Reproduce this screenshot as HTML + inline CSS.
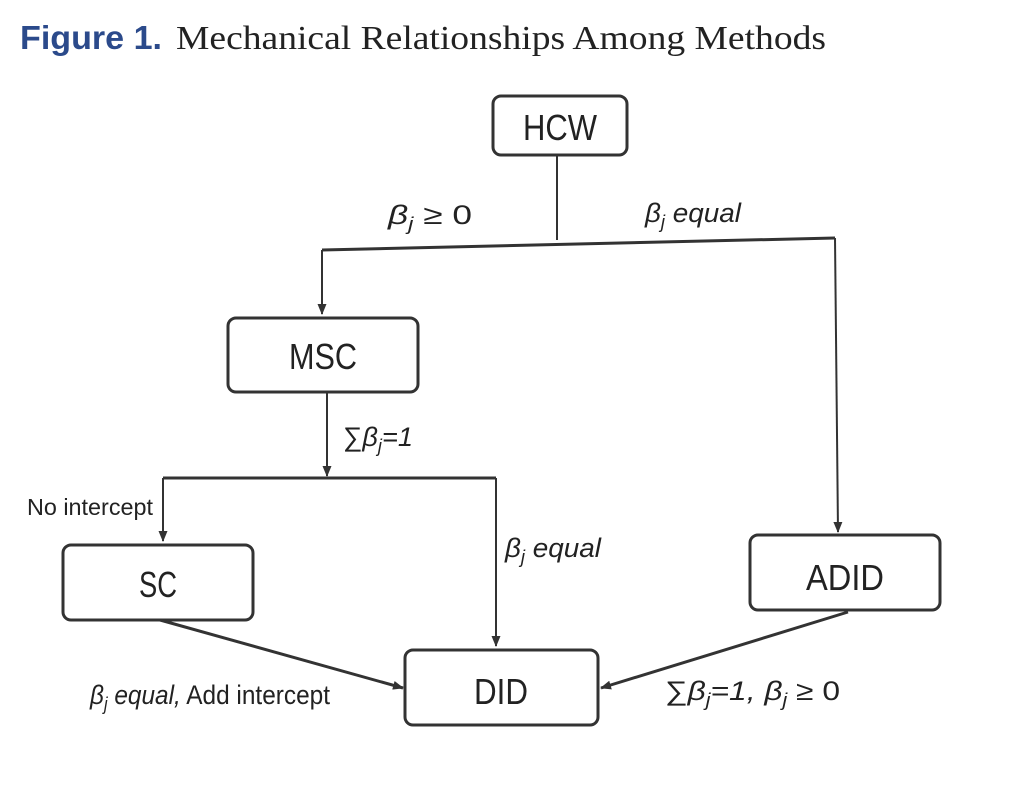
<!DOCTYPE html>
<html><head><meta charset="utf-8"><style>
body{margin:0;background:#fff;width:1010px;height:790px;overflow:hidden}
svg{display:block}
</style></head><body>
<svg width="1010" height="790" viewBox="0 0 1010 790" xmlns="http://www.w3.org/2000/svg">
<defs><marker id="a" markerWidth="12" markerHeight="12" refX="10" refY="6" orient="auto" markerUnits="userSpaceOnUse"><path d="M0,1.5 L11,6 L0,10.5 z" fill="#333"/></marker></defs>
<text x="20" y="49" font-family="Liberation Sans,sans-serif" font-weight="bold" font-size="33" fill="#2b4a8b" textLength="142" lengthAdjust="spacingAndGlyphs">Figure 1.</text>
<text x="176" y="49" font-family="Liberation Serif,serif" font-size="34" fill="#222" textLength="650" lengthAdjust="spacingAndGlyphs">Mechanical Relationships Among Methods</text>
<g fill="#fff" stroke="#333" stroke-width="3">
<rect x="493" y="96" width="134" height="59" rx="8"/>
<rect x="228" y="318" width="190" height="74" rx="8"/>
<rect x="63" y="545" width="190" height="75" rx="8"/>
<rect x="750" y="535" width="190" height="75" rx="8"/>
<rect x="405" y="650" width="193" height="75" rx="8"/>
</g>
<g stroke="#333" stroke-width="2" fill="none">
<path d="M557,155 V240"/>
<path d="M322,250 L835,238" stroke-width="3"/>
<path d="M322,250 V314" marker-end="url(#a)"/>
<path d="M835,238 L838,532" marker-end="url(#a)"/>
<path d="M327,392 V476" marker-end="url(#a)"/>
<path d="M163,478 H496" stroke-width="3"/>
<path d="M163,478 V541" marker-end="url(#a)"/>
<path d="M496,478 V646" marker-end="url(#a)"/>
<path d="M160,620 L403,688" stroke-width="3" marker-end="url(#a)"/>
<path d="M848,612 L601,688" stroke-width="3" marker-end="url(#a)"/>
</g>
<g font-family="Liberation Sans,sans-serif" fill="#222" text-anchor="middle" font-size="36">
<text x="560" y="140" textLength="74" lengthAdjust="spacingAndGlyphs">HCW</text>
<text x="323" y="369" textLength="68" lengthAdjust="spacingAndGlyphs">MSC</text>
<text x="158" y="597" textLength="38" lengthAdjust="spacingAndGlyphs">SC</text>
<text x="845" y="590" textLength="78" lengthAdjust="spacingAndGlyphs">ADID</text>
<text x="501" y="704" textLength="54" lengthAdjust="spacingAndGlyphs">DID</text>
</g>
<g font-family="Liberation Sans,sans-serif" fill="#222" font-size="27">
<text x="388" y="224" font-style="italic" textLength="84" lengthAdjust="spacingAndGlyphs">β<tspan font-size="18" dy="6">j</tspan><tspan dy="-6" font-style="normal"> ≥ 0</tspan></text>
<text x="645" y="222" font-style="italic" textLength="96" lengthAdjust="spacingAndGlyphs">β<tspan font-size="18" dy="6">j</tspan><tspan dy="-6"> equal</tspan></text>
<text x="343" y="446" font-style="italic" textLength="70" lengthAdjust="spacingAndGlyphs"><tspan font-style="normal">∑</tspan>β<tspan font-size="18" dy="6">j</tspan><tspan dy="-6">=1</tspan></text>
<text x="27" y="515" font-size="23" textLength="126" lengthAdjust="spacingAndGlyphs">No intercept</text>
<text x="505" y="557" font-style="italic" textLength="96" lengthAdjust="spacingAndGlyphs">β<tspan font-size="18" dy="6">j</tspan><tspan dy="-6"> equal</tspan></text>
<text x="90" y="704" font-style="italic" textLength="240" lengthAdjust="spacingAndGlyphs">β<tspan font-size="18" dy="6">j</tspan><tspan dy="-6"> equal,</tspan><tspan font-style="normal"> Add intercept</tspan></text>
<text x="665" y="700" font-style="italic" textLength="175" lengthAdjust="spacingAndGlyphs"><tspan font-style="normal">∑</tspan>β<tspan font-size="18" dy="6">j</tspan><tspan dy="-6">=1, β</tspan><tspan font-size="18" dy="6">j</tspan><tspan dy="-6" font-style="normal"> ≥ 0</tspan></text>
</g>
</svg>
</body></html>
